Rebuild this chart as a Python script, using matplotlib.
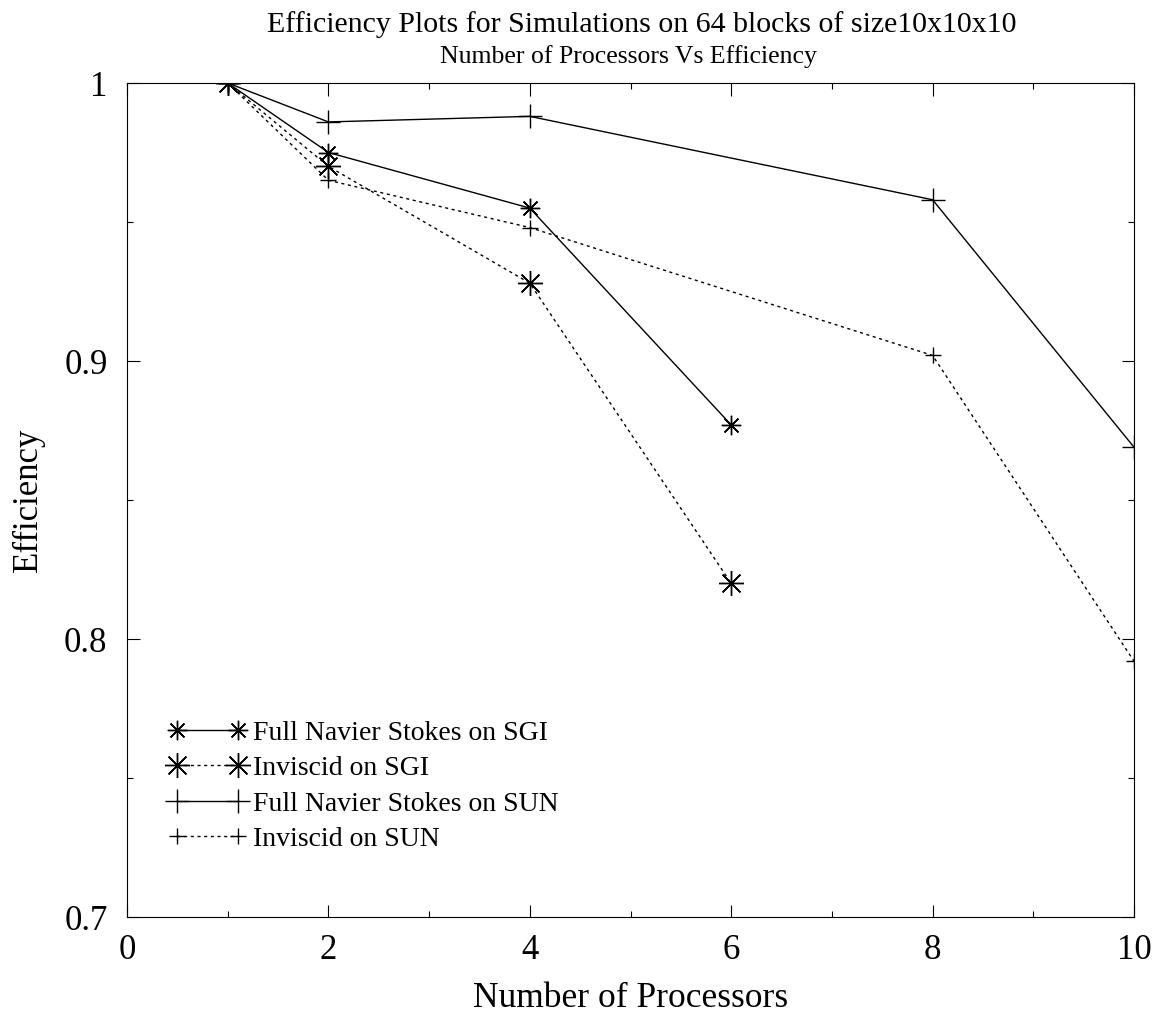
import numpy as np
import matplotlib
matplotlib.use("Agg")
import matplotlib.pyplot as plt
from matplotlib.ticker import MultipleLocator

plt.rcParams['font.family'] = ['Liberation Serif', 'DejaVu Serif']

# Efficiency vs processor count, 64 blocks of 10x10x10
procs_sgi = [1, 2, 4, 6]
full_sgi = [1.0, 0.975, 0.955, 0.877]
inv_sgi = [1.0, 0.970, 0.928, 0.820]

procs_sun = [1, 2, 4, 8, 10]
full_sun = [1.0, 0.986, 0.988, 0.958, 0.869]
inv_sun = [1.0, 0.965, 0.948, 0.902, 0.792]

labels = ["Full Navier Stokes on SGI", "Inviscid on SGI",
          "Full Navier Stokes on SUN", "Inviscid on SUN"]

star = (8, 2, 0)
dotted = (0, (2.2, 2.6))

fig = plt.figure(figsize=(11.64, 10.13), dpi=100)
ax = fig.add_axes([127 / 1164, 96 / 1013, 1007 / 1164, 834 / 1013])

ax.plot(procs_sgi, full_sgi, color='black', lw=1.0, marker=star, ms=14,
        mew=1.0, label=labels[0])
ax.plot(procs_sgi, inv_sgi, color='black', lw=1.0, ls=dotted, marker=star,
        ms=18, mew=1.0, label=labels[1])
ax.plot(procs_sun, full_sun, color='black', lw=1.0, marker='+', ms=17,
        mew=1.0, label=labels[2])
ax.plot(procs_sun, inv_sun, color='black', lw=1.0, ls=dotted, marker='+',
        ms=12, mew=1.0, label=labels[3])

ax.set_xlim(0, 10)
ax.set_ylim(0.7, 1.0)
ax.xaxis.set_major_locator(MultipleLocator(2))
ax.xaxis.set_minor_locator(MultipleLocator(1))
ax.yaxis.set_minor_locator(MultipleLocator(0.05))
ax.set_yticks([0.7, 0.8, 0.9, 1.0])
ax.set_yticklabels(['0.7', '0.8', '0.9', '1'])

ax.tick_params(which='both', direction='in', top=True, right=True,
               width=0.8, labelsize=25)
ax.tick_params(axis='x', which='major', length=9, pad=12)
ax.tick_params(axis='y', which='major', length=9, pad=14)
ax.tick_params(which='minor', length=4.5)
for s in ax.spines.values():
    s.set_linewidth(0.8)

ax.set_xlabel("Number of Processors", fontsize=25.5, labelpad=11)
ax.set_ylabel("Efficiency", fontsize=25, labelpad=14)

fig.text(0.5515, 0.976, "Efficiency Plots for Simulations on 64 blocks of size10x10x10",
         ha='center', va='center', fontsize=21.5)
fig.text(0.54, 0.944, "Number of Processors Vs Efficiency",
         ha='center', va='center', fontsize=18.5)

ax.legend(loc='lower left', bbox_to_anchor=(0.041, 0.078), frameon=False,
          fontsize=20, numpoints=2, handlelength=2.8, handletextpad=0.26,
          labelspacing=0.36, borderpad=0, borderaxespad=0)

fig.savefig("out.png", dpi=100)
